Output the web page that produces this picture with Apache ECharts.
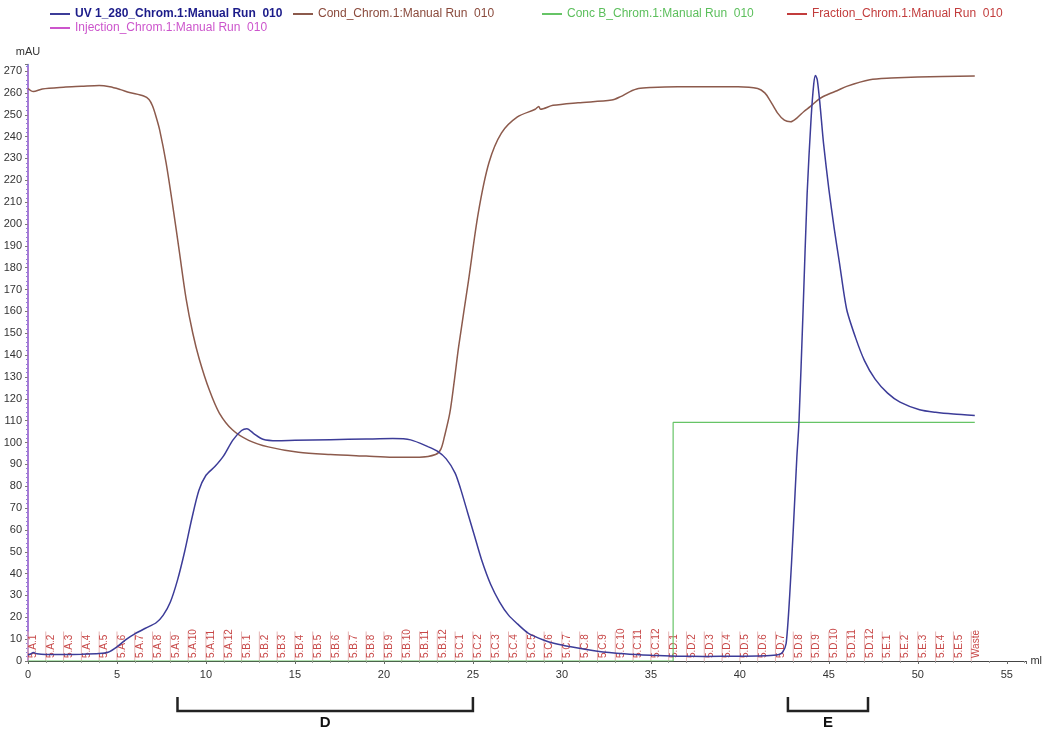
<!DOCTYPE html>
<html><head><meta charset="utf-8">
<script src="https://cdn.jsdelivr.net/npm/echarts@6/dist/echarts.min.js"></script>
<style>html,body{margin:0;padding:0;background:#fff}#c{width:1045px;height:733px}</style>
</head><body><div id="c"></div>
<script>
// ---- data ----
const uvName = 'UV 1_280_Chrom.1:Manual Run  010';
const condName = 'Cond_Chrom.1:Manual Run  010';
const concName = 'Conc B_Chrom.1:Manual Run  010';
const fracName = 'Fraction_Chrom.1:Manual Run  010';
const injName = 'Injection_Chrom.1:Manual Run  010';

const uvData = [[0,2.8],[0.15,3.2],[0.3,3.9],[0.5,3.3],[1,3.0],[2,3.0],[3,3.1],[4,3.4],[4.5,4.0],[5,6.5],[5.5,9.8],[6,12.4],[6.6,15],[7.2,17.5],[7.6,21],[8,27],[8.4,37],[8.8,50],[9.2,65],[9.6,78],[10,85],[10.5,89],[11,94],[11.5,101],[12,105.5],[12.3,106.3],[12.7,104],[13.2,101.5],[14,100.8],[15,101],[17,101.3],[19,101.6],[20.5,101.8],[21.5,101.2],[22.5,98],[23,96],[23.5,92.5],[24,86],[24.3,79],[24.7,68],[25.1,57],[25.5,46],[26,35],[26.5,27],[27,21],[27.5,17],[28.1,12.8],[29,9.5],[29.6,8],[30.5,6.5],[32,4.5],[33.5,3.3],[35,2.6],[36.5,2.2],[38,2.1],[40,2.2],[41.5,2.4],[42.2,3],[42.4,4],[42.6,8],[42.8,30],[43.0,60],[43.2,93],[43.32,109],[43.55,160],[43.78,214],[44.0,248],[44.15,264],[44.25,268],[44.35,266],[44.5,255],[44.7,237],[45,216],[45.3,198],[45.6,182],[46,161],[46.5,148],[47,137.5],[47.6,129],[48.3,122.6],[49,118.5],[50.1,115],[51,113.8],[52,113],[53.2,112.4]];

const condData = [[0,262],[0.3,260.6],[0.8,261.8],[2,262.6],[3,263],[4,263.4],[4.6,262.8],[5.2,261.5],[5.7,260.2],[6.5,258.6],[6.8,257],[7.0,254],[7.2,249],[7.4,243],[7.76,228],[8.14,208],[8.51,187],[8.88,166],[9.26,150],[9.63,138],[10.19,124],[10.75,113.5],[11.5,105.7],[12.4,101],[13.5,98],[15.2,95.5],[17,94.5],[19,93.8],[20.5,93.3],[22,93.3],[22.9,94.5],[23.2,97],[23.4,102.7],[23.7,113.4],[23.95,128],[24.2,144],[24.75,174],[25.3,205],[25.9,228],[26.6,241.6],[27.5,249],[28.5,252.5],[28.7,253.8],[28.8,252.5],[29.5,254.3],[30.9,255.5],[32.8,256.7],[33.3,258.3],[33.8,260.5],[34.3,262],[35,262.5],[36.5,262.8],[39.9,262.8],[41,262],[41.4,260],[41.7,256.5],[42.1,251],[42.5,247.5],[42.85,246.8],[43.2,248.5],[43.6,251.5],[43.95,253.7],[44.5,257.5],[45,259.5],[45.46,261],[46,263],[47.3,266],[48.5,266.8],[50,267.3],[53.2,267.7]];

const concData = [[0,0],[36.25,0],[36.25,109.2],[53.2,109.2]];

const injData = [[0,0],[0,272]];

const fracStarts = [0,1,2,3,4,5,6,7,8,9,10,11,12,13,14,15,16,17,18,19,20,21,22,23,24,25,26,27,28,29,30,31,32,33,34,35,36,37,38,39,40,41,42,43,44,45,46,47,48,49,50,51,52,53];
const fracLabels = ['5.A.1','5.A.2','5.A.3','5.A.4','5.A.5','5.A.6','5.A.7','5.A.8','5.A.9','5.A.10','5.A.11','5.A.12',
 '5.B.1','5.B.2','5.B.3','5.B.4','5.B.5','5.B.6','5.B.7','5.B.8','5.B.9','5.B.10','5.B.11','5.B.12',
 '5.C.1','5.C.2','5.C.3','5.C.4','5.C.5','5.C.6','5.C.7','5.C.8','5.C.9','5.C.10','5.C.11','5.C.12',
 '5.D.1','5.D.2','5.D.3','5.D.4','5.D.5','5.D.6','5.D.7','5.D.8','5.D.9','5.D.10','5.D.11','5.D.12',
 '5.E.1','5.E.2','5.E.3','5.E.4','5.E.5','Waste'];
const fracMarkHeight = 13.5;

const poolStarts = [8.4, 42.7];
const poolEnds = [25.0, 47.2];
const poolLabels = ['D', 'E'];

// ---- chart ----
const FONT = '"Liberation Sans", Arial, sans-serif';
const chart = echarts.init(document.getElementById('c'), null, {renderer:'canvas'});

function legendAt(name, left, top, color, bold, size){
  return {
    left: left, top: top, padding: 0, itemWidth: 20, itemHeight: 2, itemGap: 5,
    icon: 'rect', selectedMode: false,
    data: [{name: name}],
    textStyle: {fontFamily: FONT, fontSize: size, color: color, fontWeight: bold ? 'bold' : 'normal', padding: [0,0,0,0]}
  };
}

const fracItems = fracStarts.map((x, i) => [x, i]);
const poolItems = poolStarts.map((s, i) => [s, poolEnds[i], i]);

const option = {
  backgroundColor: '#fff',
  animation: false,
  legend: [
    legendAt(uvName, 50, 8, '#1c1c8a', true, 12),
    legendAt(condName, 293, 8, '#8a4a3c', false, 12),
    legendAt(concName, 542, 8, '#5cbf5c', false, 12),
    legendAt(fracName, 787, 8, '#c23c3c', false, 12),
    legendAt(injName, 50, 22, '#cc55cc', false, 12)
  ],
  grid: {left: 28, right: 15, top: 64.5, bottom: 72, containLabel: false},
  xAxis: {
    type: 'value', min: 0, max: 56.1, interval: 5,
    name: 'ml', nameLocation: 'end', nameGap: 4,
    nameTextStyle: {fontFamily: FONT, fontSize: 11, color: '#333'},
    axisLine: {show: true, onZero: false, lineStyle: {color: '#444', width: 1}},
    axisTick: {show: true, length: 3, lineStyle: {color: '#666'}},
    minorTick: {show: true, splitNumber: 5, length: 2, lineStyle: {color: '#999'}},
    axisLabel: {fontFamily: FONT, fontSize: 11, color: '#333', margin: 8, showMaxLabel: false},
    splitLine: {show: false}
  },
  yAxis: {
    type: 'value', min: 0, max: 273, interval: 10,
    name: 'mAU', nameLocation: 'end', nameGap: 7,
    nameTextStyle: {fontFamily: FONT, fontSize: 11, color: '#333', align: 'center'},
    axisLine: {show: true, lineStyle: {color: '#6a5fd0', width: 1.5}},
    axisTick: {show: true, length: 3, lineStyle: {color: '#777'}},
    minorTick: {show: true, splitNumber: 5, length: 2, lineStyle: {color: '#8a80d8'}},
    axisLabel: {fontFamily: FONT, fontSize: 11, color: '#333', margin: 6, showMaxLabel: false},
    splitLine: {show: false}
  },
  series: [
    {
      name: injName, type: 'line', data: injData, showSymbol: false, symbol: 'none',
      lineStyle: {color: '#c070d0', width: 1}, itemStyle: {color: '#cc55cc'}, z: 1
    },
    {
      name: fracName, type: 'custom', data: fracItems, z: 2,
      itemStyle: {color: '#c23c3c'},
      renderItem: function(params, api){
        const x = api.value(0), i = api.value(1);
        const p0 = api.coord([x, 0]);
        const p1 = api.coord([x, fracMarkHeight]);
        return {
          type: 'group',
          children: [
            {type: 'line', shape: {x1: p0[0], y1: p0[1], x2: p1[0], y2: p1[1]},
             style: {stroke: '#e6b4b4', lineWidth: 1}},
            {type: 'text', x: p0[0] + 5.5, y: p0[1] - 3, rotation: Math.PI / 2,
             style: {text: fracLabels[i], x: 0, y: 0, align: 'left', verticalAlign: 'middle',
                     fill: '#c84848', font: '10px ' + FONT}}
          ]
        };
      }
    },
    {
      name: concName, type: 'line', data: concData, showSymbol: false, symbol: 'none',
      lineStyle: {color: '#66c466', width: 1.2}, itemStyle: {color: '#66c466'}, z: 3
    },
    {
      name: condName, type: 'line', data: condData, showSymbol: false, symbol: 'none', smooth: 0.3,
      lineStyle: {color: '#8c5a4c', width: 1.5}, itemStyle: {color: '#8c5a4c'}, z: 4
    },
    {
      name: uvName, type: 'line', data: uvData, showSymbol: false, symbol: 'none', smooth: 0.25,
      lineStyle: {color: '#3c3c98', width: 1.5}, itemStyle: {color: '#3c3c98'}, z: 5
    },
    {
      name: 'pools', type: 'custom', data: poolItems, clip: false, z: 6,
      renderItem: function(params, api){
        const a = api.coord([api.value(0), 0]);
        const b = api.coord([api.value(1), 0]);
        const y = a[1];
        const i = api.value(2);
        return {
          type: 'group',
          children: [
            {type: 'polyline', shape: {points: [[a[0], y + 36], [a[0], y + 50], [b[0], y + 50], [b[0], y + 36]]},
             style: {stroke: '#222', lineWidth: 2.5, fill: null}},
            {type: 'text', x: (a[0] + b[0]) / 2, y: y + 62,
             style: {text: poolLabels[i], align: 'center', verticalAlign: 'middle',
                     fill: '#111', font: 'bold 15px ' + FONT}}
          ]
        };
      }
    }
  ]
};
chart.setOption(option);
</script>
</body></html>
